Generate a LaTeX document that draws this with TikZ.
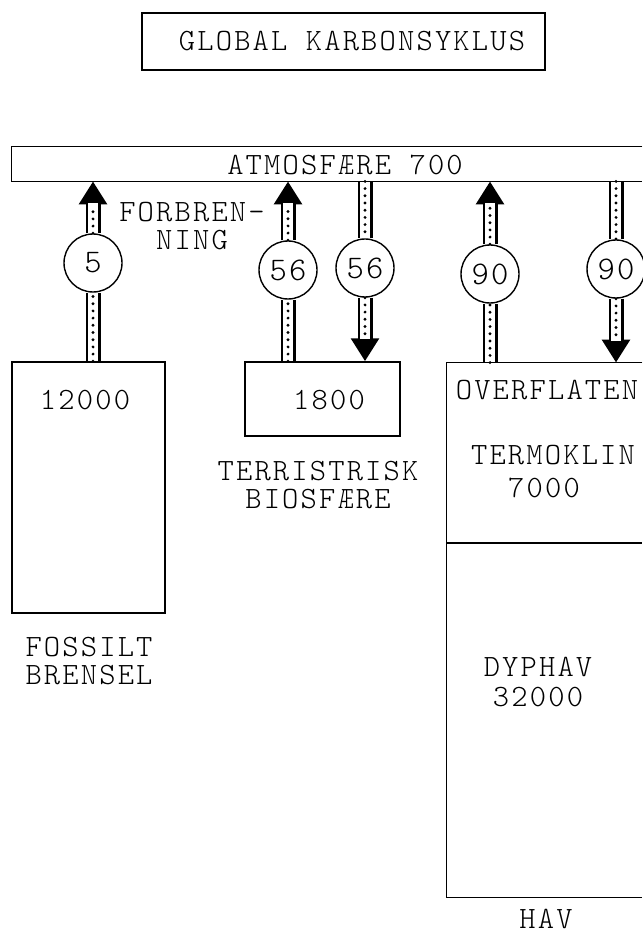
\documentclass[tikz,border=0pt]{standalone}
\usepackage{fontspec}
\setmonofont{lmmonolt10-regular.otf}[LetterSpace=7]
\usetikzlibrary{arrows.meta}
\pgfdeclarelayer{background}
\pgfsetlayers{background,main}
\newcommand\twfont{\ttfamily\fontsize{15.5}{13}\selectfont}
\newcommand\digfont{\ttfamily\fontsize{16.5}{15}\selectfont}
\begin{document}
\begin{tikzpicture}[x=0.5pt,y=-0.5pt,
  lab/.style={font=\twfont, align=center, inner sep=0pt},
  box/.style={draw, line width=0.7pt},
  flux/.style={circle, draw, fill=white, line width=0.7pt, minimum size=29pt, inner sep=0pt, font=\digfont},
  shaft/.style={draw, line width=7.5pt,
    postaction={draw=white, line width=4.6pt, -},
    postaction={draw, line width=1.6pt, dash pattern=on 0pt off 3.6pt, line cap=round, -}},
  tipshaft/.style={draw, line width=7.5pt, -{Triangle[width=13.5pt,length=11.5pt]},
    postaction={draw=white, line width=4.6pt, -, shorten >=11pt},
    postaction={draw, line width=1.6pt, dash pattern=on 0pt off 3.6pt, line cap=round, -, shorten >=13pt}}
]
\useasboundingbox (0,0) rectangle (642,935);

% title
\node[box, minimum width=201.5pt, minimum height=28.5pt, inner sep=0pt] (title) at (343.5,41.5) {};
\node[lab] (titletxt) at (352,41.5) {GLOBAL KARBONSYKLUS};

% atmosphere (right side cut off)
\node[minimum width=315pt, minimum height=17pt, inner sep=0pt] (atm) at (327,164) {};
\draw[box] (atm.north east) -- (atm.north west) -- (atm.south west) -- (atm.south east);
\node[lab] (atmtxt) at (345,165) {ATMOSFÆRE 700};

% fossil fuel
\node[box, minimum width=76.5pt, minimum height=125.5pt, inner sep=0pt] (fos) at (88.5,487.5) {};
\node[lab] (fostxt) at (85,400) {12000};
\node[lab] (foslab) at (89,661) {FOSSILT\\[1pt]BRENSEL};

% terrestrial biosphere
\node[box, minimum width=77.5pt, minimum height=37pt, inner sep=0pt] (terr) at (322.5,399) {};
\node[lab] (terrtxt) at (329,400) {1800};
\node[lab] (terrlab) at (318,485) {TERRISTRISK\\[1pt]BIOSFÆRE};

% ocean (right side cut off)
\node[minimum width=97.5pt, minimum height=267pt, inner sep=0pt] (sea) at (544.5,630) {};
\draw[box] (sea.north east) -- (sea.north west) -- (sea.south west) -- (sea.south east);
\coordinate (divL) at (447,543);
\coordinate (divR) at (642,543);
\draw[box] (divL) -- (divR);
\node[lab] (ovl) at (547,390) {OVERFLATEN};
\node[lab] (term) at (553,455) {TERMOKLIN};
\node[lab] (termv) at (544,488) {7000};
\node[lab] (dyp) at (538,682) {DYPHAV\\[2pt]32000};
\node[lab] (hav) at (546,919) {HAV};

% label
\node[lab] (forb) at (192,226) {FORBREN-\\[1pt]NING};

% flux circles
\node[flux] (f1) at (93,263) {5};
\node[flux] (f2) at (288,270) {56};
\node[flux] (f3) at (365,268) {56};
\node[flux] (f4) at (490,274) {90};
\node[flux] (f5) at (616,269) {90};

\begin{pgfonlayer}{background}
  % fossil -> atmosphere
  \draw[shaft] (fos.north -| f1) -- (f1.south);
  \draw[tipshaft] (f1.north) -- (atm.south -| f1);
  % biosphere -> atmosphere
  \draw[shaft] (terr.north -| f2) -- (f2.south);
  \draw[tipshaft] (f2.north) -- (atm.south -| f2);
  % atmosphere -> biosphere
  \draw[shaft] (atm.south -| f3) -- (f3.north);
  \draw[tipshaft] (f3.south) -- (terr.north -| f3);
  % ocean -> atmosphere
  \draw[shaft] (sea.north -| f4) -- (f4.south);
  \draw[tipshaft] (f4.north) -- (atm.south -| f4);
  % atmosphere -> ocean
  \draw[shaft] (atm.south -| f5) -- (f5.north);
  \draw[tipshaft] (f5.south) -- (sea.north -| f5);
\end{pgfonlayer}
\end{tikzpicture}
\end{document}
